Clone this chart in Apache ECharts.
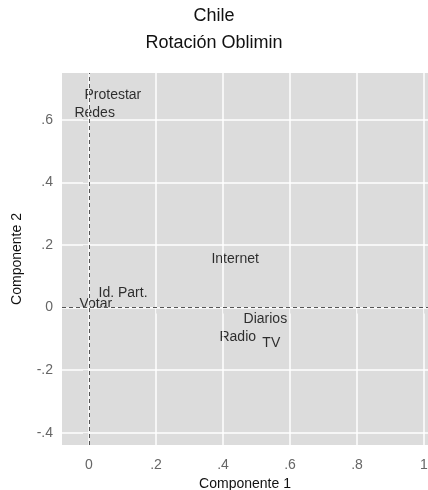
<!DOCTYPE html>
<html>
<head>
<meta charset="utf-8">
<script src="https://cdn.jsdelivr.net/npm/echarts@6/dist/echarts.min.js"></script>
<style>html,body{margin:0;padding:0;background:#fff}#c{width:428px;height:490px}</style>
</head>
<body>
<div id="c"></div>
<script>
var names = ["Protestar", "Redes", "Id. Part.", "Votar", "Internet", "Diarios", "Radio", "TV"];
var comp1 = [-0.024, -0.054, 0.018, -0.039, 0.355, 0.451, 0.379, 0.507];
var comp2 = [0.679, 0.621, 0.046, 0.011, 0.155, -0.037, -0.094, -0.113];
var xTicks = [0, 0.2, 0.4, 0.6, 0.8, 1];
var yTicks = [-0.4, -0.2, 0, 0.2, 0.4, 0.6];

var FONT = "Liberation Sans, Arial, sans-serif";
function fmt(v) {
  var r = Math.round(v * 10) / 10;
  if (r === 0) return "0";
  if (r === 1) return "1";
  var s = r.toFixed(1);
  return s.replace("0.", ".");
}
var pts = names.map(function (n, i) { return [comp1[i], comp2[i], n]; });
var gridLines = xTicks.map(function (v) { return { xAxis: v }; })
  .concat(yTicks.map(function (v) { return { yAxis: v }; }));

var chart = echarts.init(document.getElementById('c'), null, { renderer: 'canvas' });
chart.setOption({
  animation: false,
  backgroundColor: '#ffffff',
  title: [
    { text: 'Chile', left: 'center', top: 2, textStyle: { fontFamily: FONT, fontSize: 18, fontWeight: 'normal', color: '#111' } },
    { text: 'Rotación Oblimin', left: 'center', top: 29, textStyle: { fontFamily: FONT, fontSize: 18, fontWeight: 'normal', color: '#111' } }
  ],
  grid: { left: 62, right: 0, top: 73, bottom: 45, show: true, backgroundColor: '#dcdcdc', borderWidth: 0,
    containLabel: false, outerBoundsMode: 'none' },
  xAxis: {
    type: 'value', min: -0.0806, max: 1.012, offset: 1,
    name: 'Componente 1', nameLocation: 'middle', nameGap: 22,
    nameTextStyle: { fontFamily: FONT, fontSize: 14, color: '#111' },
    axisLine: { show: false },
    axisTick: { show: true, length: 6, customValues: xTicks, lineStyle: { color: '#888' } },
    axisLabel: { customValues: xTicks, formatter: fmt, margin: 12, fontFamily: FONT, fontSize: 14, color: '#666' },
    splitLine: { show: false }
  },
  yAxis: {
    type: 'value', min: -0.439, max: 0.749, offset: 1,
    name: 'Componente 2', nameLocation: 'middle', nameGap: 37,
    nameTextStyle: { fontFamily: FONT, fontSize: 14, color: '#111' },
    axisLine: { show: false },
    axisTick: { show: true, length: 6, customValues: yTicks, lineStyle: { color: '#888' } },
    axisLabel: { customValues: yTicks, formatter: fmt, margin: 8, fontFamily: FONT, fontSize: 14, color: '#666' },
    splitLine: { show: false }
  },
  series: [
    {
      type: 'scatter', data: [], silent: true, z: 1,
      markLine: { silent: true, symbol: 'none', label: { show: false }, animation: false,
        lineStyle: { color: '#ffffff', width: 1.5, type: 'solid' }, data: gridLines }
    },
    {
      type: 'scatter', data: [], silent: true, z: 2,
      markLine: { silent: true, symbol: 'none', label: { show: false }, animation: false,
        lineStyle: { color: '#555', width: 1, type: [4, 3] }, data: [{ xAxis: 0 }, { yAxis: 0 }] }
    },
    {
      type: 'scatter', z: 3, symbolSize: 1, itemStyle: { color: 'rgba(0,0,0,0)' },
      data: pts,
      label: { show: true, position: 'right', distance: 3, formatter: function (p) { return p.data[2]; },
        fontFamily: FONT, fontSize: 14, color: '#000' }
    }
  ]
});
</script>
</body>
</html>
